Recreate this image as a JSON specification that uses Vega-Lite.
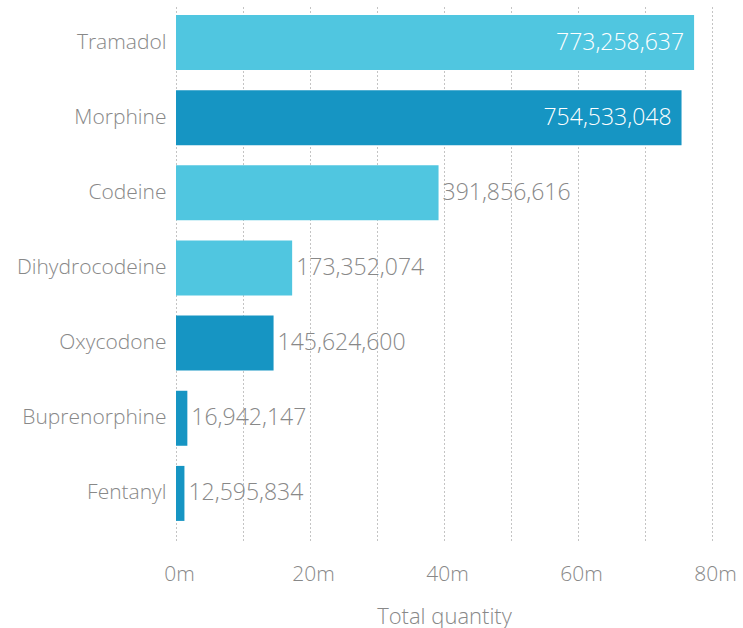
{
  "$schema": "https://vega.github.io/schema/vega-lite/v6.json",
  "width": 536,
  "height": 535,
  "autosize": "none",
  "padding": {"left": 176, "top": 5, "right": 31, "bottom": 88},
  "background": "white",
  "config": {
    "view": {"stroke": null},
    "font": "Open Sans"
  },
  "data": {
    "values": [
      {"drug": "Tramadol", "value": 773258637, "shade": "light"},
      {"drug": "Morphine", "value": 754533048, "shade": "dark"},
      {"drug": "Codeine", "value": 391856616, "shade": "light"},
      {"drug": "Dihydrocodeine", "value": 173352074, "shade": "light"},
      {"drug": "Oxycodone", "value": 145624600, "shade": "dark"},
      {"drug": "Buprenorphine", "value": 16942147, "shade": "dark"},
      {"drug": "Fentanyl", "value": 12595834, "shade": "dark"}
    ]
  },
  "encoding": {
    "y": {
      "field": "drug",
      "type": "nominal",
      "sort": null,
      "scale": {"paddingInner": 0.268, "paddingOuter": 0.194, "align": 0.345},
      "axis": {
        "title": null,
        "domain": false,
        "ticks": false,
        "labelPadding": 10,
        "labelFontSize": 21,
        "labelFontWeight": 300,
        "labelColor": "#888888",
        "labelFont": "Open Sans"
      }
    },
    "x": {
      "field": "value",
      "type": "quantitative",
      "scale": {"domain": [0, 800000000], "nice": false},
      "axis": {
        "title": "Total quantity",
        "titleFont": "Open Sans",
        "titleFontSize": 22,
        "titleFontWeight": 300,
        "titleColor": "#888888",
        "titlePadding": 22,
        "domain": false,
        "ticks": false,
        "values": [0, 100000000, 200000000, 300000000, 400000000, 500000000, 600000000, 700000000, 800000000],
        "labelExpr": "datum.value % 200000000 == 0 ? (datum.value / 10000000) + 'm' : ''",
        "labelOverlap": false,
        "labelFlush": false,
        "labelOffset": 3,
        "labelFont": "Open Sans",
        "labelFontSize": 21,
        "labelFontWeight": 300,
        "labelColor": "#888888",
        "labelPadding": 23,
        "grid": true,
        "gridColor": "#888888",
        "gridDash": [1, 3],
        "gridWidth": 1
      }
    }
  },
  "layer": [
    {
      "mark": {"type": "bar"},
      "encoding": {
        "color": {
          "field": "shade",
          "type": "nominal",
          "scale": {"domain": ["light", "dark"], "range": ["#50C6E0", "#1695C3"]},
          "legend": null
        }
      }
    },
    {
      "transform": [{"filter": "datum.value > 500000000"}],
      "mark": {"type": "text", "align": "right", "dx": -10, "fontSize": 23, "fontWeight": 300, "font": "Open Sans", "color": "white", "baseline": "middle"},
      "encoding": {"text": {"field": "value", "type": "quantitative", "format": ","}}
    },
    {
      "transform": [{"filter": "datum.value <= 500000000"}],
      "mark": {"type": "text", "align": "left", "dx": 4, "fontSize": 23, "fontWeight": 300, "font": "Open Sans", "color": "#888888", "baseline": "middle"},
      "encoding": {"text": {"field": "value", "type": "quantitative", "format": ","}}
    }
  ]
}
